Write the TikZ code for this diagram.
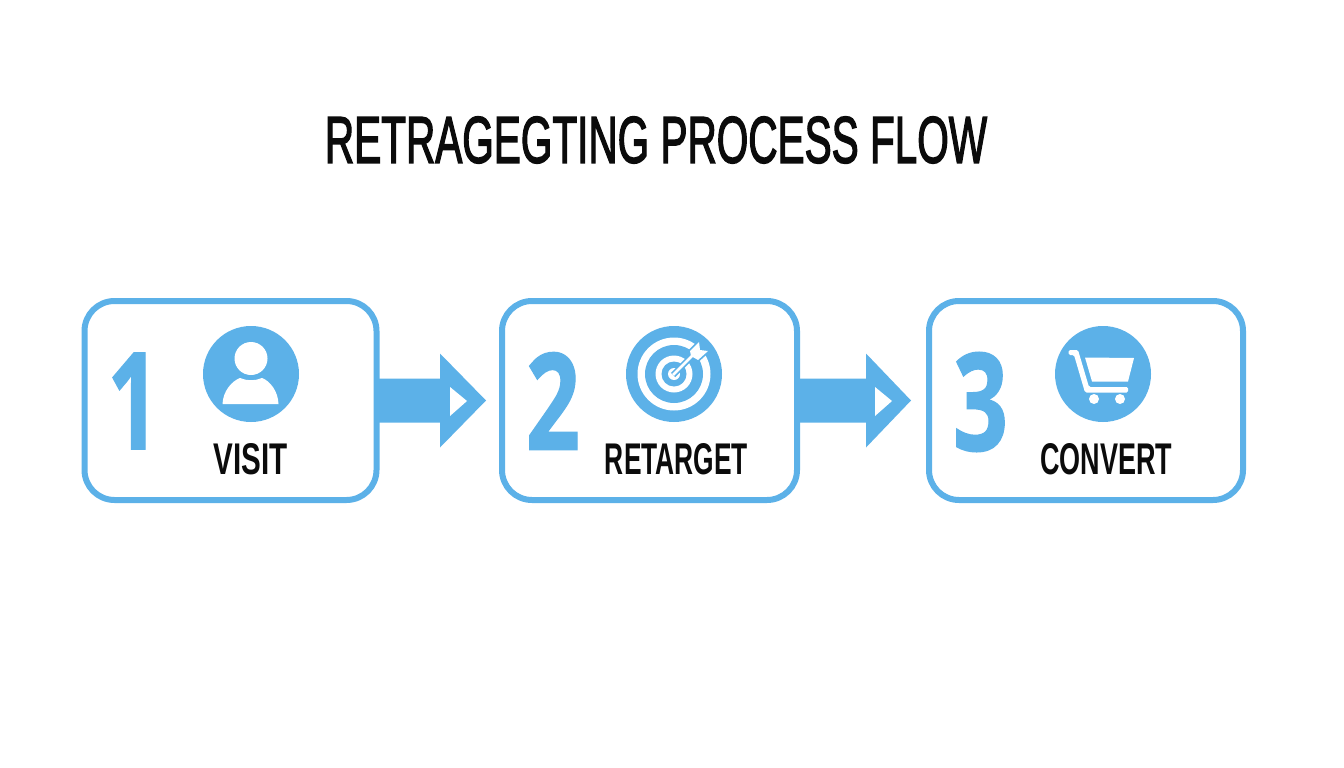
\documentclass[tikz,border=0pt]{standalone}
\usepackage{fontspec}
\usepackage{graphicx}
\setmainfont{Liberation Sans}
\newfontfamily\digitfont[FakeBold=1.2]{Open Sans}
\newfontfamily\titlefont[FakeBold=2.6]{Liberation Sans}
\definecolor{flow}{HTML}{5CB1E8}
\definecolor{ink}{HTML}{0B0B0B}
\newcommand{\fit}[3]{\resizebox{#1pt}{#2pt}{\bfseries #3}}
\newcommand{\fitdigit}[3]{\resizebox{#1pt}{#2pt}{\digitfont\bfseries #3}}
\newcommand{\fittitle}[3]{\resizebox{#1pt}{#2pt}{\titlefont #3}}
\tikzset{
  stepbox/.style={draw=flow,line width=6pt,fill=white,rounded corners=30pt,outer sep=0pt,inner sep=0pt},
  stepnum/.style={text=flow,inner sep=0pt,outer sep=0pt},
  steplabel/.style={text=ink,inner sep=0pt,outer sep=0pt},
  icondisc/.style={circle,fill=flow,minimum size=96pt,inner sep=0pt,outer sep=0pt},
  blockarrow/.style={fill=flow,draw=none},
  cutout/.style={fill=white,draw=none}
}
\begin{document}
\begin{tikzpicture}[x=1pt,y=-1pt]
\useasboundingbox[fill=white] (0,0) rectangle (1344,768);
% title
\node[steplabel] (title) at (656,140) {\fittitle{662}{46}{RETRAGEGTING PROCESS FLOW}};
% boxes
\node[stepbox,minimum width=292pt,minimum height=199pt] (b1) at (230.5,400.5) {};
\node[stepbox,minimum width=295pt,minimum height=199pt] (b2) at (649.5,400.5) {};
\node[stepbox,minimum width=314pt,minimum height=199pt] (b3) at (1086,400.5) {};
% arrows
\fill[blockarrow] (b1.east) ++(0,-22) -- ++(63.5,0) -- ++(0,-25) -- ++(46,47) -- ++(-46,47) -- ++(0,-25) -- ++(-63.5,0) -- cycle;
\fill[cutout] (450,387) -- (467,401) -- (450,416) -- cycle;
\fill[blockarrow] (b2.east) ++(0,-22) -- ++(69,0) -- ++(0,-25) -- ++(45,47) -- ++(-45,47) -- ++(0,-25) -- ++(-69,0) -- cycle;
\fill[cutout] (875,387) -- (892,401) -- (875,416) -- cycle;
% numbers
\node[stepnum] (n1) at (133.5,401) {\fitdigit{52}{96}{1}};
\node[stepnum] (n2) at (553,401) {\fitdigit{54}{97}{2}};
\node[stepnum] (n3) at (980.5,402) {\fitdigit{55}{98}{3}};
% labels
\node[steplabel] (l1) at (251,459.5) {\fit{74}{31}{VISIT}};
\node[steplabel] (l2) at (676.5,459.5) {\fit{143}{31}{RETARGET}};
\node[steplabel] (l3) at (1106,459.5) {\fit{132}{31}{CONVERT}};
% icon discs
\node[icondisc] (i1) at (251,374) {};
\node[icondisc] (i2) at (674,374) {};
\node[icondisc] (i3) at (1103,374) {};
% person
\fill[cutout] (251,358.5) circle (16.5);
\fill[cutout] (222.5,404) .. controls (223,391) and (232,381) .. (240,378) .. controls (247,381) and (255,381) .. (262,378) .. controls (270,381) and (278,391) .. (278.5,404) -- cycle;
% target
\fill[cutout] (674,374) circle (36.5);
\fill[flow] (674,374) circle (29);
\fill[cutout] (674,374) circle (18.5);
\fill[flow] (674,374) circle (12.5);
\fill[cutout] (674,374) circle (6);
\draw[flow,line width=6pt] (673,375) -- (697,351);
\filldraw[fill=white,draw=flow,line width=3.5pt,line join=round] (690,351) -- (699,342) -- (700,350) -- (708,351) -- (698,360) -- (691,356) -- cycle;
\fill[cutout] (690,351) -- (699,342) -- (700,350) -- (708,351) -- (698,360) -- (691,356) -- cycle;
\draw[white,line width=2.6pt] (673,375) -- (697,351);
% cart
\fill[cutout,rounded corners=1.5pt] (1068.5,350) -- (1078,350) -- (1089,387) -- (1128,387) -- (1128,392.5) -- (1085,392.5) -- (1074,355) -- (1068.5,355) -- cycle;
\fill[cutout] (1085,357.5) -- (1134,358) -- (1128,381.5) -- (1092,381.5) -- cycle;
\fill[cutout] (1094,399) circle (5);
\fill[cutout] (1120,399) circle (5);
\end{tikzpicture}
\end{document}
